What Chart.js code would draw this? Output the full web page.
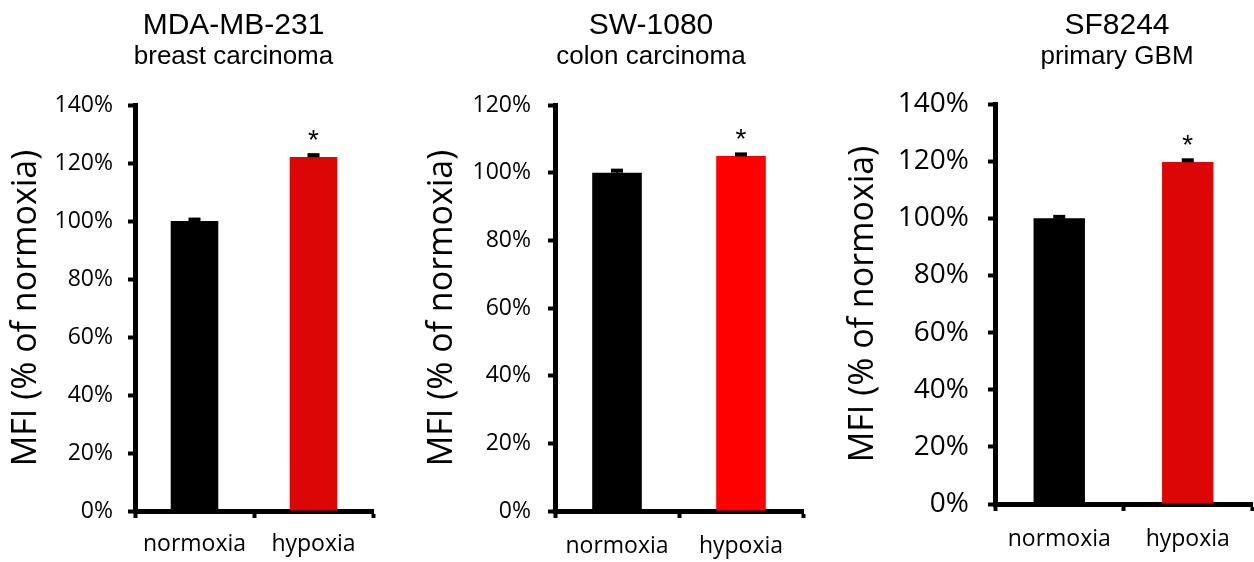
<!DOCTYPE html>
<html>
<head>
<meta charset="utf-8">
<script src="https://cdn.jsdelivr.net/npm/chart.js@4.4.0/dist/chart.umd.min.js"></script>
<style>
  body { margin: 0; background: #fff; width: 1254px; height: 562px; position: relative; overflow: hidden; }
  canvas { position: absolute; top: 0; }
</style>
</head>
<body>
<canvas id="c0" width="420" height="562" style="left:0px"></canvas>
<canvas id="c1" width="420" height="562" style="left:420px"></canvas>
<canvas id="c2" width="414" height="562" style="left:840px"></canvas>
<script>
// valeurs
const categories = ['normoxia', 'hypoxia'];
const cellLines = ['MDA-MB-231', 'SW-1080', 'SF8244'];
const tumourTypes = ['breast carcinoma', 'colon carcinoma', 'primary GBM'];
const mdaValues = [100, 122.1];
const mdaErrors = [0.5, 0.6];
const swValues = [100, 104.9];
const swErrors = [0.6, 0.5];
const sfValues = [100, 119.7];
const sfErrors = [0.5, 0.6];
const yMax = [140, 120, 140];
const stars = ['', '*'];
const yTitle = 'MFI (% of normoxia)';

// mise en page de chaque panneau (pixels dans le canvas)
const layout = [
  { id: 'c0', values: mdaValues, errors: mdaErrors, red: '#dc0606', yWidth: 135, padRight: 47, padTop: 105, xHeight: 51,
    tickFont: 23, tickPad: 15, xPad: 13, titlePad: 6, titleX: 233.5 },
  { id: 'c1', values: swValues, errors: swErrors, red: '#ff0000', yWidth: 135, padRight: 37, padTop: 105, xHeight: 51,
    tickFont: 23, tickPad: 17, xPad: 15, titlePad: 2, titleX: 231 },
  { id: 'c2', values: sfValues, errors: sfErrors, red: '#dc0606', yWidth: 155, padRight: 2, padTop: 104, xHeight: 58,
    tickFont: 28, tickPad: 19, xPad: 15, titlePad: 3, titleX: 277 }
];

// barres d'erreur, étoiles et titres
const extras = {
  id: 'extras',
  afterDatasetsDraw(chart, args, opts) {
    const ctx = chart.ctx;
    const y = chart.scales.y;
    const bars = chart.getDatasetMeta(0).data;
    ctx.save();
    ctx.strokeStyle = '#000';
    ctx.fillStyle = '#000';
    bars.forEach((bar, i) => {
      const top = y.getPixelForValue(opts.values[i] + opts.errors[i]);
      ctx.lineWidth = 2;
      ctx.beginPath(); ctx.moveTo(bar.x, bar.y); ctx.lineTo(bar.x, top); ctx.stroke();
      ctx.lineWidth = 4;
      ctx.beginPath(); ctx.moveTo(bar.x - 6, top); ctx.lineTo(bar.x + 6, top); ctx.stroke();
      if (stars[i]) {
        ctx.font = '28px "Liberation Sans"';
        ctx.textAlign = 'center';
        ctx.textBaseline = 'alphabetic';
        ctx.fillText(stars[i], bar.x, top - 6);
      }
    });
    ctx.textAlign = 'center';
    ctx.textBaseline = 'alphabetic';
    ctx.font = '30px "Liberation Sans"';
    ctx.fillText(opts.title, opts.titleX, 34);
    ctx.font = '26px "Liberation Sans"';
    ctx.fillText(opts.subtitle, opts.titleX, 64);
    ctx.restore();
  }
};

layout.forEach((p, k) => {
  new Chart(document.getElementById(p.id), {
    type: 'bar',
    data: {
      labels: categories,
      datasets: [{
        data: p.values,
        backgroundColor: ['#000000', p.red],
        borderWidth: 0,
        barPercentage: 0.4,
        categoryPercentage: 1
      }]
    },
    options: {
      responsive: false,
      devicePixelRatio: 1,
      animation: false,
      layout: { padding: { top: p.padTop, right: p.padRight, left: 0, bottom: 0 } },
      plugins: {
        legend: { display: false },
        tooltip: { enabled: false },
        extras: { values: p.values, errors: p.errors, title: cellLines[k], subtitle: tumourTypes[k], titleX: p.titleX }
      },
      scales: {
        x: {
          z: 1,
          afterFit: s => { s.height = p.xHeight; },
          grid: { drawOnChartArea: false, drawTicks: true, tickLength: 7, tickWidth: 4, tickColor: '#000', offset: true },
          border: { display: true, color: '#000', width: 5 },
          ticks: { color: '#000', padding: p.xPad, font: { family: 'Open Sans', size: 23 } }
        },
        y: {
          z: 1,
          min: 0,
          max: yMax[k],
          afterFit: s => { s.width = p.yWidth; },
          grid: { drawOnChartArea: false, drawTicks: true, tickLength: 7, tickWidth: 4, tickColor: '#000' },
          border: { display: true, color: '#000', width: 5 },
          ticks: { stepSize: 20, color: '#000', padding: p.tickPad, font: { family: 'Open Sans', size: p.tickFont },
                   callback: v => v + '%' },
          title: { display: true, text: yTitle, color: '#000', padding: { top: p.titlePad, bottom: 0 },
                   font: { family: 'Open Sans', size: 34 } }
        }
      }
    },
    plugins: [extras]
  });
});
</script>
</body>
</html>
